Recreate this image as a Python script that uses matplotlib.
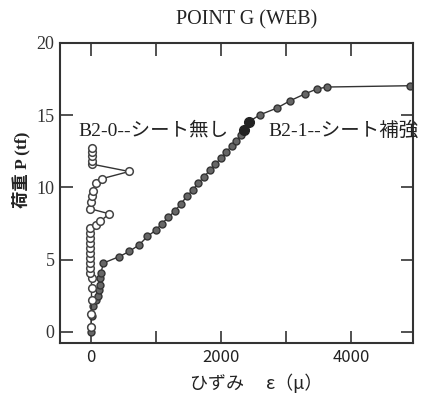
import matplotlib.pyplot as plt

# B2-0 (no sheet) - open circles
open_x = [0, 0, 5, 5, 5, -15, -15, -15, -15, -15, -15, -15, -15, -15, -15,
          72, 138, 277, -15, 0, 11, 26, 72, 165, 585, 11, 11, 11, 11, 11]
open_y = [0.3, 1.2, 2.22, 3.03, 3.72, 4.07, 4.41, 4.76, 5.1, 5.45, 5.8, 6.14, 6.49, 6.84, 7.18,
          7.41, 7.64, 8.17, 8.52, 9.02, 9.37, 9.72, 10.3, 10.6, 11.1, 11.61, 11.86, 12.14, 12.42, 12.72]

# B2-1 (sheet reinforced) - filled circles
closed_x = [0, 0, 5, 35, 72, 100, 120, 134, 140, 149, 189, 435, 585, 738, 866, 1000, 1088,
            1190, 1292, 1380, 1472, 1565, 1651, 1740, 1830, 1910, 2000, 2080, 2160, 2231,
            2300, 2358, 2431, 2600, 2857, 3062, 3292, 3472, 3626, 4900]
closed_y = [0, 0.3, 1.1, 1.75, 2.2, 2.5, 2.9, 3.25, 3.7, 4.06, 4.76, 5.21, 5.56, 6.02, 6.6,
            7.06, 7.48, 7.94, 8.38, 8.86, 9.37, 9.83, 10.3, 10.75, 11.2, 11.6, 12.05, 12.45,
            12.85, 13.18, 13.6, 13.99, 14.56, 15.03, 15.49, 16.0, 16.48, 16.81, 16.95, 17.04]

x_ticks = [0, 1000, 2000, 3000, 4000]
x_labels = ['0', '', '2000', '', '4000']
y_ticks = [0, 5, 10, 15, 20]

serif_jp = ['Liberation Serif', 'Noto Sans CJK JP']
sans_jp = ['Noto Sans CJK JP', 'DejaVu Sans']
ink = '#333333'

fig = plt.figure(figsize=(4.21, 3.97), dpi=100)
ax = fig.add_axes([0.1425, 0.136, 0.838, 0.7557])

ax.plot(closed_x, closed_y, '-o', color=ink, lw=1, ms=5, mfc='#666666', mec='#333333', mew=1)
ax.plot(closed_x[31:33], closed_y[31:33], 'o', ms=7, mfc='#222222', mec='#222222')
ax.plot(open_x, open_y, '-o', color=ink, lw=1, ms=5.5, mfc='white', mec='#444444', mew=1.1)

ax.set_xlim(-480, 4950)
ax.set_ylim(-0.78, 20)
ax.set_xticks(x_ticks)
ax.set_xticklabels(x_labels, family=sans_jp, fontsize=12, color='#222222')
ax.set_yticks(y_ticks)
ax.set_yticklabels([str(v) for v in y_ticks], family='Liberation Serif', fontsize=13, color='#333333')
ax.tick_params(direction='in', length=9, width=1.2, top=True, right=True, color=ink, pad=4)
for s in ax.spines.values():
    s.set_linewidth(1.5)
    s.set_color(ink)

ax.text(-200, 13.9, 'B2-0--シート無し', family=serif_jp, fontsize=14, color='#222222',
        va='center', ha='left')
ax.text(2723, 13.9, 'B2-1--シート補強', family=serif_jp, fontsize=14, color='#222222',
        va='center', ha='left', clip_on=False)

fig.text(247 / 421, 1 - 20 / 397, 'POINT G (WEB)', family='Liberation Serif', fontsize=14.5,
         ha='center', va='center', color='#222222')
fig.text(21 / 421, 1 - 170 / 397, '荷重 P (tf)', family=serif_jp, fontsize=12.5, rotation=90,
         ha='center', va='center', color='#222222', fontweight='bold')
fig.text(256 / 421, 1 - 383 / 397, 'ひずみ\u3000 ε（μ）', family=sans_jp, fontsize=13,
         ha='center', va='center', color='#222222')

fig.savefig('out.png', dpi=100)
